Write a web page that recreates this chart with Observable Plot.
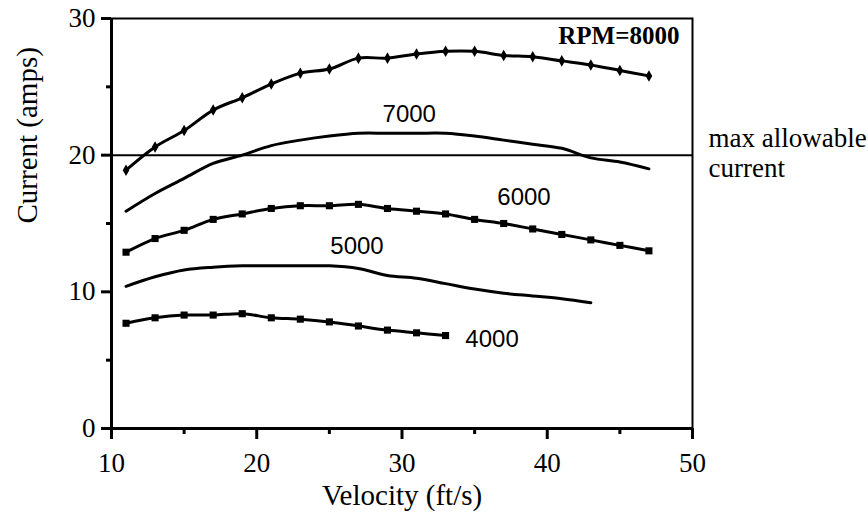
<!DOCTYPE html>
<html>
<head>
<meta charset="utf-8">
<script src="https://cdn.jsdelivr.net/npm/d3@7"></script>
<script src="https://cdn.jsdelivr.net/npm/@observablehq/plot@0.6"></script>
<style>
  html, body { margin: 0; padding: 0; background: #fff; }
  #chart svg { display: block; }
</style>
</head>
<body>
<div id="chart"></div>
<script>
// Velocity (ft/s) at which each point was measured
const velocity = [11, 13, 15, 17, 19, 21, 23, 25, 27, 29, 31, 33, 35, 37, 39, 41, 43, 45, 47];

// Current (amps) per RPM
const rpm8000 = [18.9, 20.6, 21.8, 23.3, 24.2, 25.2, 26.0, 26.3, 27.1, 27.1, 27.4, 27.6, 27.6, 27.3, 27.2, 26.9, 26.6, 26.2, 25.8];
const rpm7000 = [15.9, 17.2, 18.3, 19.4, 20.0, 20.7, 21.1, 21.4, 21.6, 21.6, 21.6, 21.6, 21.4, 21.1, 20.8, 20.5, 19.8, 19.5, 19.0];
const rpm6000 = [12.9, 13.9, 14.5, 15.3, 15.7, 16.1, 16.3, 16.3, 16.4, 16.1, 15.9, 15.7, 15.3, 15.0, 14.6, 14.2, 13.8, 13.4, 13.0];
const rpm5000 = [10.4, 11.1, 11.6, 11.8, 11.9, 11.9, 11.9, 11.9, 11.7, 11.2, 11.0, 10.6, 10.2, 9.9, 9.7, 9.5, 9.2];
const rpm4000 = [7.7, 8.1, 8.3, 8.3, 8.4, 8.1, 8.0, 7.8, 7.5, 7.2, 7.0, 6.8];

const maxAllowable = 20;

// Axis ticks
const xTicks = [10, 20, 30, 40, 50];
const xMinorTicks = [15, 25, 35, 45];
const yTicks = [0, 10, 20, 30];
const yMinorTicks = [5, 15, 25];

// Curve labels (anchored in data coordinates)
const curveLabels = [
  {text: "7000", x: 30.5, y: 23.0},
  {text: "6000", x: 38.4, y: 16.9},
  {text: "5000", x: 26.9, y: 13.3},
  {text: "4000", x: 36.2, y: 6.5}
];
const rpmLabel = [{text: "RPM=8000", x: 49.1, y: 28.7}];
const limitLabels = [
  {text: "max allowable", x: 51.1, y: 21.2},
  {text: "current", x: 51.1, y: 19.0}
];

const toRows = (vals, rpm) => vals.map((c, i) => ({velocity: velocity[i], current: c, rpm}));
const rows8000 = toRows(rpm8000, 8000);
const rows7000 = toRows(rpm7000, 7000);
const rows6000 = toRows(rpm6000, 6000);
const rows5000 = toRows(rpm5000, 5000);
const rows4000 = toRows(rpm4000, 4000);
const allRows = [...rows8000, ...rows7000, ...rows6000, ...rows5000, ...rows4000];

const serif = "'Liberation Serif', 'Times New Roman', serif";
const sans = "'Liberation Sans', Arial, sans-serif";

const chart = Plot.plot({
  width: 868,
  height: 521,
  marginLeft: 111,
  marginRight: 176,
  marginTop: 18,
  marginBottom: 93,
  style: {background: "#fff", color: "#000", fontFamily: serif},
  x: {domain: [10, 50]},
  y: {domain: [0, 30]},
  marks: [
    Plot.frame({stroke: "#000", strokeWidth: 2}),
    Plot.ruleY([maxAllowable], {stroke: "#000", strokeWidth: 2}),
    Plot.ruleX([10], {stroke: "#000", strokeWidth: 3}),
    Plot.ruleY([0], {stroke: "#000", strokeWidth: 3}),
    Plot.axisX({ticks: xTicks, tickSize: 11, tickPadding: 13, strokeWidth: 3, fontSize: 27, fontFamily: serif, label: null, tickFormat: d => String(d)}),
    Plot.axisX({ticks: xMinorTicks, tickSize: 6, strokeWidth: 3, text: null, label: null}),
    Plot.axisY({ticks: yTicks, tickSize: 10, tickPadding: 6, strokeWidth: 3, fontSize: 27, fontFamily: serif, label: null, tickFormat: d => String(d)}),
    Plot.axisY({ticks: yMinorTicks, tickSize: 5, strokeWidth: 3, text: null, label: null}),
    Plot.line(allRows, {x: "velocity", y: "current", z: "rpm", stroke: "#000", strokeWidth: 3, curve: "catmull-rom"}),
    Plot.dot(rows8000, {x: "velocity", y: "current", symbol: "diamond", r: 3.5, fill: "#000"}),
    Plot.dot([...rows6000, ...rows4000], {x: "velocity", y: "current", symbol: "square", r: 4, fill: "#000"}),
    Plot.text(curveLabels, {x: "x", y: "y", text: "text", fontSize: 24, fontFamily: sans, fill: "#000"}),
    Plot.text(rpmLabel, {x: "x", y: "y", text: "text", fontSize: 25, fontWeight: "bold", fontFamily: serif, textAnchor: "end", fill: "#000"}),
    Plot.text(limitLabels, {x: "x", y: "y", text: "text", fontSize: 27, fontFamily: serif, textAnchor: "start", fill: "#000", clip: false}),
    Plot.text(["Current (amps)"], {frameAnchor: "left", dx: -84, rotate: -90, fontSize: 29, fontFamily: serif, fill: "#000"}),
    Plot.text(["Velocity (ft/s)"], {frameAnchor: "bottom", dy: 76, fontSize: 29, fontFamily: serif, fill: "#000"})
  ]
});

document.getElementById("chart").appendChild(chart);
</script>
</body>
</html>
